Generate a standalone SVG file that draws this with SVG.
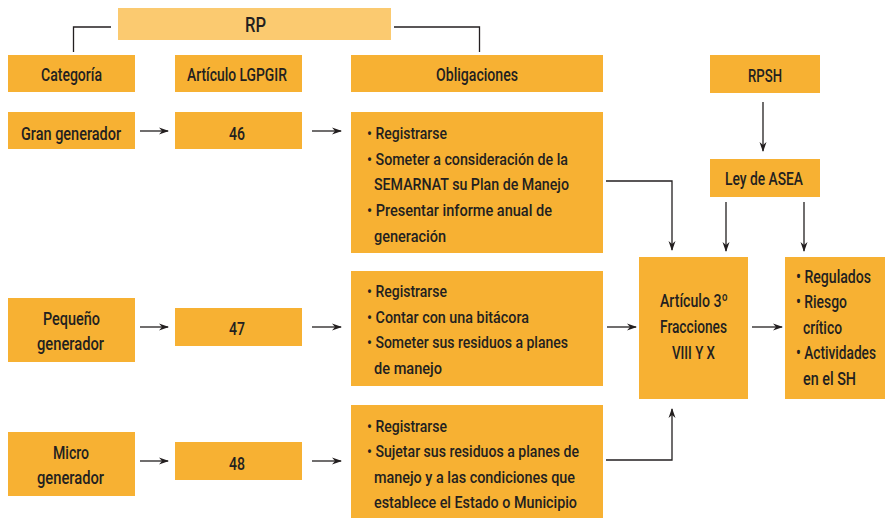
<svg xmlns="http://www.w3.org/2000/svg" width="885" height="518" viewBox="0 0 885 518">
<defs>
<marker id="ah" markerWidth="10" markerHeight="8" refX="9" refY="4" orient="auto" markerUnits="userSpaceOnUse">
<path d="M0,0.5 L10,4 L0,7.5 L3,4 Z" fill="#231f20"/>
</marker>
<style>
.b{fill:#f7b133}
.l{fill:#fbca70}
text{font-family:Roboto,"Liberation Sans",sans-serif;font-weight:500;font-size:16.5px;fill:#231f20}
.h{font-size:18px}
.e{stroke:#231f20;stroke-width:1.3;fill:none}
.a{marker-end:url(#ah)}
</style>
</defs>
<rect width="885" height="518" fill="#ffffff"/>
<g id="connectors">
<path class="e" d="M111,27 H73.5 V52"/>
<path class="e" d="M394,27 H479.5 V52"/>
<path class="e a" d="M140,131 H168"/>
<path class="e a" d="M312,131 H341"/>
<path class="e a" d="M140,327 H168"/>
<path class="e a" d="M312,327 H341"/>
<path class="e a" d="M140,461 H168"/>
<path class="e a" d="M312,461 H341"/>
<path class="e a" d="M606,181 H672 V250"/>
<path class="e a" d="M606,460 H672 V409"/>
<path class="e a" d="M607,327 H636"/>
<path class="e a" d="M752,327 H782"/>
<path class="e a" d="M763,102 V151"/>
<path class="e a" d="M726,202 V251"/>
<path class="e a" d="M804,202 V251"/>
</g>
<g id="rp"><rect class="l" x="118" y="8" width="273" height="32"/><text class="h" style="font-size:19.5px" x="245" y="32" textLength="21" lengthAdjust="spacingAndGlyphs">RP</text></g>
<g id="categoria"><rect class="b" x="8" y="55" width="127" height="37"/><text class="h" x="41" y="81" textLength="61" lengthAdjust="spacingAndGlyphs">Categoría</text></g>
<g id="articulo"><rect class="b" x="175" y="55" width="127" height="37"/><text class="h" x="187" y="81" textLength="100" lengthAdjust="spacingAndGlyphs">Artículo LGPGIR</text></g>
<g id="obligaciones"><rect class="b" x="351" y="55" width="252" height="37"/><text class="h" x="436" y="81" textLength="82" lengthAdjust="spacingAndGlyphs">Obligaciones</text></g>
<g id="rpsh"><rect class="b" x="710" y="55" width="110" height="38"/><text class="h" x="748" y="82" textLength="34" lengthAdjust="spacingAndGlyphs">RPSH</text></g>
<g id="gran"><rect class="b" x="8" y="112" width="127" height="37"/><text class="h" x="21" y="140" textLength="100" lengthAdjust="spacingAndGlyphs">Gran generador</text></g>
<g id="a46"><rect class="b" x="175" y="112" width="127" height="37"/><text class="h" x="229" y="140" textLength="16" lengthAdjust="spacingAndGlyphs">46</text></g>
<g id="obl1"><rect class="b" x="351" y="112" width="252" height="141"/>
<text x="367" y="139" textLength="80" lengthAdjust="spacingAndGlyphs">• Registrarse</text>
<text x="367" y="165" textLength="201" lengthAdjust="spacingAndGlyphs">• Someter a consideración de la</text>
<text x="374" y="190" textLength="195" lengthAdjust="spacingAndGlyphs">SEMARNAT su Plan de Manejo</text>
<text x="367" y="216" textLength="185" lengthAdjust="spacingAndGlyphs">• Presentar informe anual de</text>
<text x="374" y="242" textLength="72" lengthAdjust="spacingAndGlyphs">generación</text>
</g>
<g id="ley"><rect class="b" x="710" y="159" width="110" height="38"/><text class="h" x="725" y="185" textLength="78" lengthAdjust="spacingAndGlyphs">Ley de ASEA</text></g>
<g id="pequeno"><rect class="b" x="8" y="298" width="127" height="64"/>
<text class="h" x="43" y="325" textLength="57" lengthAdjust="spacingAndGlyphs">Pequeño</text>
<text class="h" x="37" y="350" textLength="67" lengthAdjust="spacingAndGlyphs">generador</text></g>
<g id="a47"><rect class="b" x="175" y="308" width="127" height="38"/><text class="h" x="229" y="335" textLength="16" lengthAdjust="spacingAndGlyphs">47</text></g>
<g id="obl2"><rect class="b" x="351" y="271" width="252" height="115"/>
<text x="367" y="297" textLength="80" lengthAdjust="spacingAndGlyphs">• Registrarse</text>
<text x="367" y="323" textLength="162" lengthAdjust="spacingAndGlyphs">• Contar con una bitácora</text>
<text x="367" y="348" textLength="201" lengthAdjust="spacingAndGlyphs">• Someter sus residuos a planes</text>
<text x="374" y="374" textLength="68" lengthAdjust="spacingAndGlyphs">de manejo</text>
</g>
<g id="art3"><rect class="b" x="639" y="257" width="109" height="142"/>
<text class="h" x="660" y="307" textLength="68" lengthAdjust="spacingAndGlyphs">Artículo 3º</text>
<text class="h" x="660" y="333" textLength="67" lengthAdjust="spacingAndGlyphs">Fracciones</text>
<text class="h" x="672" y="359" textLength="43" lengthAdjust="spacingAndGlyphs">VIII Y X</text>
</g>
<g id="regulados"><rect class="b" x="785" y="257" width="100" height="142"/>
<text class="h" x="796" y="283" textLength="75" lengthAdjust="spacingAndGlyphs">• Regulados</text>
<text class="h" x="796" y="308" textLength="51" lengthAdjust="spacingAndGlyphs">• Riesgo</text>
<text class="h" x="803" y="334" textLength="39" lengthAdjust="spacingAndGlyphs">crítico</text>
<text class="h" x="796" y="359" textLength="80" lengthAdjust="spacingAndGlyphs">• Actividades</text>
<text class="h" x="803" y="385" textLength="53" lengthAdjust="spacingAndGlyphs">en el SH</text>
</g>
<g id="micro"><rect class="b" x="8" y="432" width="127" height="64"/>
<text class="h" x="53" y="459" textLength="36" lengthAdjust="spacingAndGlyphs">Micro</text>
<text class="h" x="37" y="484" textLength="67" lengthAdjust="spacingAndGlyphs">generador</text></g>
<g id="a48"><rect class="b" x="175" y="442" width="127" height="38"/><text class="h" x="229" y="470" textLength="16" lengthAdjust="spacingAndGlyphs">48</text></g>
<g id="obl3"><rect class="b" x="351" y="405" width="252" height="113"/>
<text x="367" y="432" textLength="80" lengthAdjust="spacingAndGlyphs">• Registrarse</text>
<text x="367" y="457" textLength="212" lengthAdjust="spacingAndGlyphs">• Sujetar sus residuos a planes de</text>
<text x="374" y="483" textLength="201" lengthAdjust="spacingAndGlyphs">manejo y a las condiciones que</text>
<text x="374" y="508" textLength="203" lengthAdjust="spacingAndGlyphs">establece el Estado o Municipio</text>
</g>
</svg>
